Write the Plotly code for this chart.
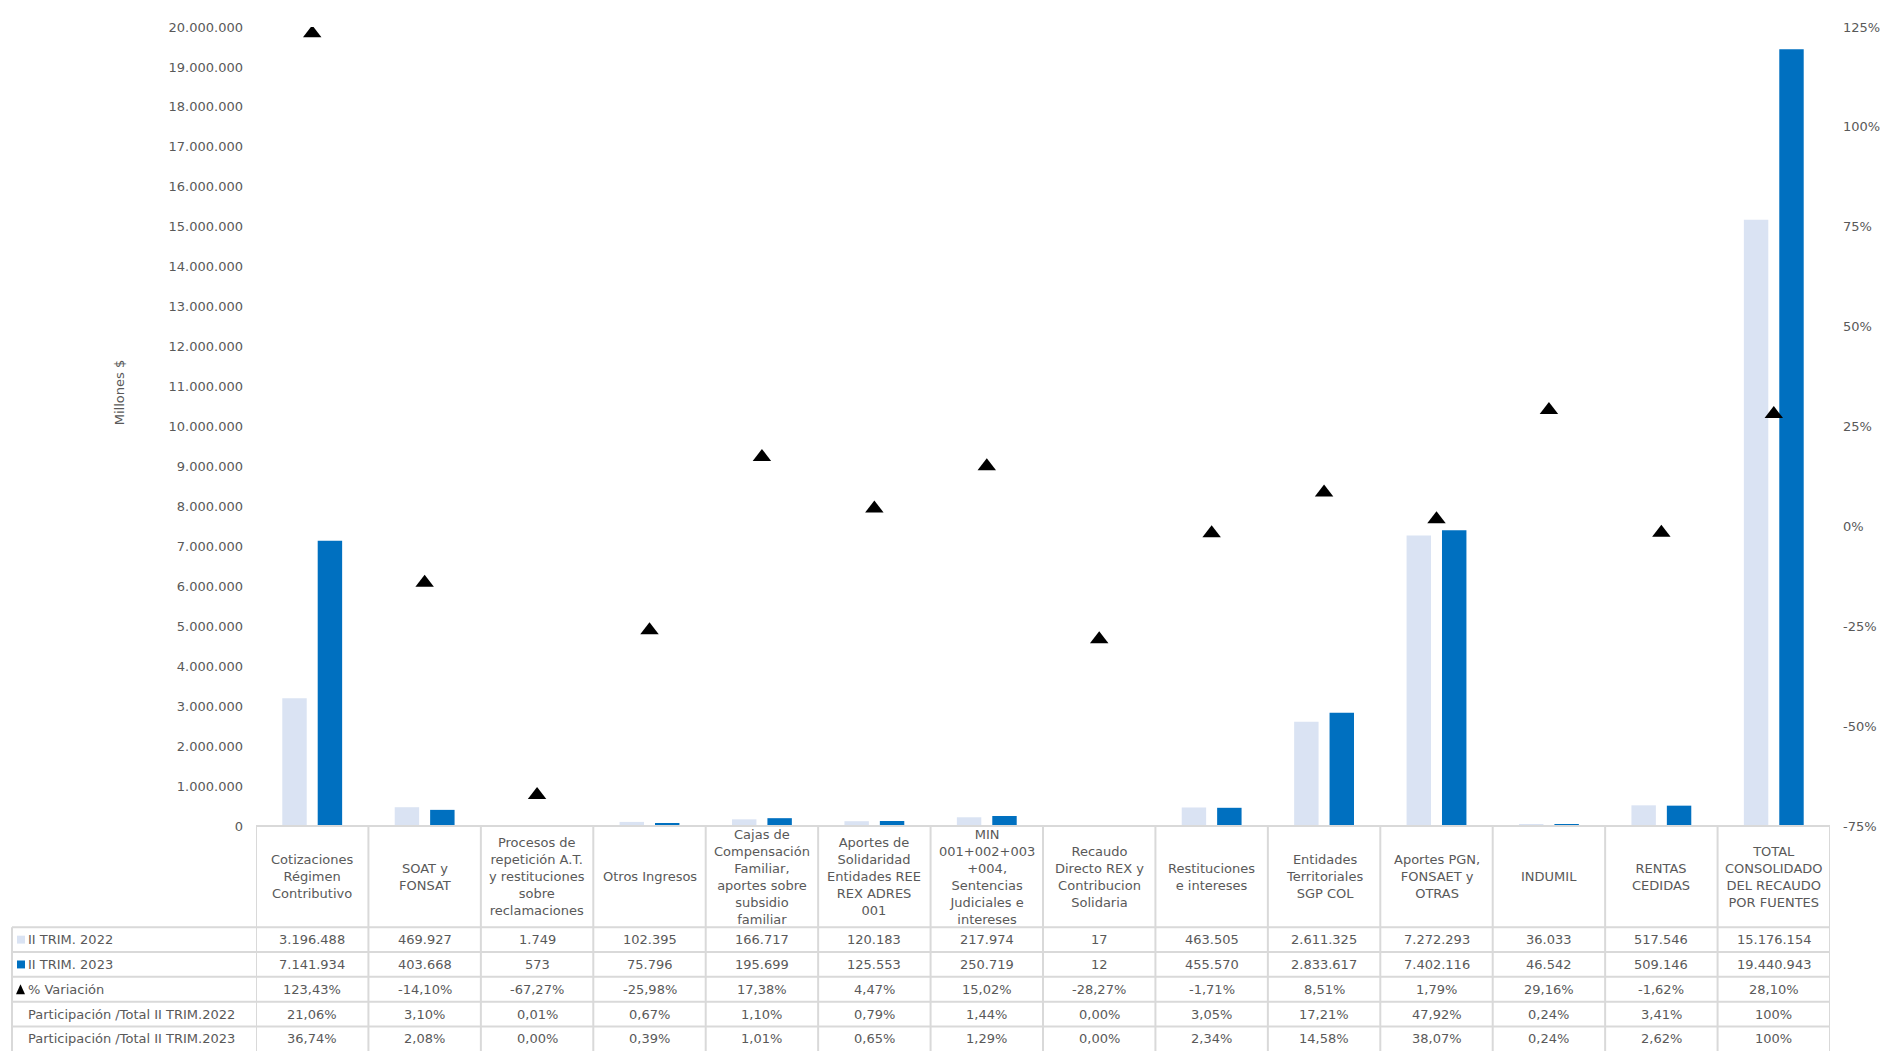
import plotly.graph_objects as go

# ---------------- data ----------------
categories = [
    "Cotizaciones<br>Régimen<br>Contributivo",
    "SOAT y<br>FONSAT",
    "Procesos de<br>repetición A.T.<br>y restituciones<br>sobre<br>reclamaciones",
    "Otros Ingresos",
    "Cajas de<br>Compensación<br>Familiar,<br>aportes sobre<br>subsidio<br>familiar",
    "Aportes de<br>Solidaridad<br>Entidades REE<br>REX ADRES<br>001",
    "MIN<br>001+002+003<br>+004,<br>Sentencias<br>Judiciales e<br>intereses",
    "Recaudo<br>Directo REX y<br>Contribucion<br>Solidaria",
    "Restituciones<br>e intereses",
    "Entidades<br>Territoriales<br>SGP COL",
    "Aportes PGN,<br>FONSAET y<br>OTRAS",
    "INDUMIL",
    "RENTAS<br>CEDIDAS",
    "TOTAL<br>CONSOLIDADO<br>DEL RECAUDO<br>POR FUENTES",
]
trim_2022 = [3196488, 469927, 1749, 102395, 166717, 120183, 217974, 17,
             463505, 2611325, 7272293, 36033, 517546, 15176154]
trim_2023 = [7141934, 403668, 573, 75796, 195699, 125553, 250719, 12,
             455570, 2833617, 7402116, 46542, 509146, 19440943]
variacion = [123.43, -14.10, -67.27, -25.98, 17.38, 4.47, 15.02, -28.27,
             -1.71, 8.51, 1.79, 29.16, -1.62, 28.10]
part_2022 = [21.06, 3.10, 0.01, 0.67, 1.10, 0.79, 1.44, 0.00, 3.05, 17.21,
             47.92, 0.24, 3.41, 100]
part_2023 = [36.74, 2.08, 0.00, 0.39, 1.01, 0.65, 1.29, 0.00, 2.34, 14.58,
             38.07, 0.24, 2.62, 100]
row_labels = ["II TRIM. 2022", "II TRIM. 2023", "% Variación",
              "Participación /Total II TRIM.2022",
              "Participación /Total II TRIM.2023"]
y_ticks = list(range(0, 20000001, 1000000))
y2_ticks = [-75, -50, -25, 0, 25, 50, 75, 100, 125]

# ---------------- styling / layout constants ----------------
OFF = 8  # page body margin
W, H = 1903, 1051
PL, PR, PT, PB = 256, 1830, 21, 826        # plot area in page pixels
ML, MT = PL - OFF, PT - OFF
MR = W - (PR - OFF)
MB = H - (PB - OFF)
PW, PH = PR - PL, PB - PT
C_LIGHT, C_DARK = "#DAE3F3", "#0070C0"
TXT = "#595959"
GRID = "#D9D9D9"
FONT = "DejaVu Sans"


def px_x(px):
    return (px - PL) / PW


def px_y(py):
    return (PB - py) / PH


def fmt_int(v):
    return f"{v:,}".replace(",", ".")


def fmt_pct(v):
    if v == 100:
        return "100%"
    return f"{v:.2f}%".replace(".", ",")


fig = go.Figure()
fig.add_trace(go.Bar(x=categories, y=trim_2022, name="II TRIM. 2022",
                     marker=dict(color=C_LIGHT, line=dict(width=0))))
fig.add_trace(go.Bar(x=categories, y=trim_2023, name="II TRIM. 2023",
                     marker=dict(color=C_DARK, line=dict(width=0))))
fig.add_trace(go.Scatter(x=categories, y=variacion, name="% Variación",
                         yaxis="y2", mode="markers",
                         marker=dict(symbol="triangle-up", size=16,
                                     color="black")))

# ---------------- table ----------------
header_top, header_bot = 826, 928
row_h = 25
row_tops = [header_bot + i * row_h for i in range(len(row_labels))]
n = len(categories)
shapes = []
line = dict(color=GRID, width=2)

shapes.append(dict(type="line", xref="x", yref="paper", x0=-0.5, x1=n - 0.5,
                   y0=px_y(header_top), y1=px_y(header_top), line=line))
for i in range(n + 1):
    shapes.append(dict(type="line", xref="x", yref="paper", x0=i - 0.5,
                       x1=i - 0.5, y0=px_y(header_top), y1=px_y(H + 20),
                       line=line))
shapes.append(dict(type="line", xref="paper", yref="paper", x0=px_x(12),
                   x1=px_x(12), y0=px_y(header_bot), y1=px_y(H + 20),
                   line=line))
for t in row_tops:
    shapes.append(dict(type="line", xref="paper", yref="paper", x0=px_x(12),
                       x1=1, y0=px_y(t), y1=px_y(t), line=line))

annotations = []
for c in categories:
    annotations.append(dict(x=c, xref="x", y=px_y((header_top + header_bot) / 2),
                            yref="paper", text=c, showarrow=False,
                            xanchor="center", yanchor="middle", align="center",
                            font=dict(family=FONT, size=13, color=TXT)))

rows_text = [
    [fmt_int(v) for v in trim_2022],
    [fmt_int(v) for v in trim_2023],
    [fmt_pct(v) for v in variacion],
    [fmt_pct(v) for v in part_2022],
    [fmt_pct(v) for v in part_2023],
]
for r, (lab, vals) in enumerate(zip(row_labels, rows_text)):
    yc = px_y(row_tops[r] + row_h / 2)
    annotations.append(dict(x=px_x(26), xref="paper", y=yc, yref="paper",
                            text=lab, showarrow=False, xanchor="left",
                            yanchor="middle",
                            font=dict(family=FONT, size=13, color=TXT)))
    for c, v in zip(categories, vals):
        annotations.append(dict(x=c, xref="x", y=yc, yref="paper", text=v,
                                showarrow=False, xanchor="center",
                                yanchor="middle",
                                font=dict(family=FONT, size=13, color=TXT)))

for r, col in [(0, C_LIGHT), (1, C_DARK)]:
    cy = row_tops[r] + row_h / 2
    shapes.append(dict(type="rect", xref="paper", yref="paper",
                       x0=px_x(17), x1=px_x(25), y0=px_y(cy + 4),
                       y1=px_y(cy - 4), fillcolor=col, line=dict(width=0)))
cy = row_tops[2] + row_h / 2
shapes.append(dict(type="path", xref="paper", yref="paper",
                   path=f"M {px_x(16)},{px_y(cy + 5)} L {px_x(25)},{px_y(cy + 5)} "
                        f"L {px_x(20.5)},{px_y(cy - 5)} Z",
                   fillcolor="black", line=dict(width=0)))

annotations.append(dict(x=px_x(119), xref="paper", y=px_y(390), yref="paper",
                        text="Millones $", textangle=-90, showarrow=False,
                        xanchor="center", yanchor="middle",
                        font=dict(family=FONT, size=13, color=TXT)))
annotations.append(dict(x=px_x(1902), xref="paper", y=px_y(405), yref="paper",
                        text="% Variación", textangle=-90, showarrow=False,
                        xanchor="center", yanchor="middle",
                        font=dict(family=FONT, size=13, color=TXT)))

fig.update_layout(
    width=W, height=H,
    margin=dict(l=ML, r=MR, t=MT, b=MB, pad=0),
    paper_bgcolor="white", plot_bgcolor="white",
    barmode="group", bargap=0.37, bargroupgap=0.31,
    showlegend=False,
    font=dict(family=FONT, size=13, color=TXT),
    xaxis=dict(range=[-0.5, n - 0.5], showticklabels=False, showgrid=False,
               zeroline=False, showline=False, ticks=""),
    yaxis=dict(range=[0, 20000000], tickvals=y_ticks,
               ticktext=[fmt_int(v) for v in y_ticks], showgrid=False,
               zeroline=False, showline=False, ticks="",
               ticklabelstandoff=12,
               tickfont=dict(family=FONT, size=13, color=TXT)),
    yaxis2=dict(range=[-75, 125], overlaying="y", side="right",
                tickvals=y2_ticks, ticktext=[f"{v}%" for v in y2_ticks],
                showgrid=False, zeroline=False, showline=False, ticks="",
                ticklabelstandoff=12,
                tickfont=dict(family=FONT, size=13, color=TXT)),
    shapes=shapes,
    annotations=annotations,
)

fig.write_html("out.html")
